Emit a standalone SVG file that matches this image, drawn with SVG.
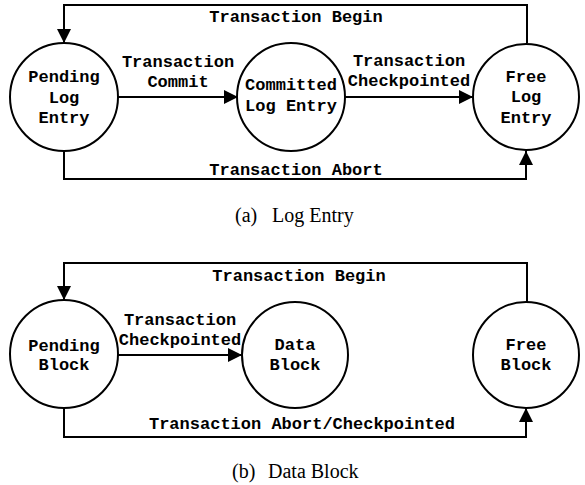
<svg xmlns="http://www.w3.org/2000/svg" width="585" height="485" viewBox="0 0 585 485">
  <style>
    .node { fill: #fff; stroke: #000; stroke-width: 2; }
    .edge { fill: none; stroke: #000; stroke-width: 2; marker-end: url(#arrow); }
    .lbl { font-family: "Liberation Mono", "Courier New", monospace; font-weight: bold; font-size: 17px; fill: #000; text-anchor: middle; }
    .cap { font-family: "Liberation Serif", "Times New Roman", serif; font-size: 20px; fill: #000; }
  </style>
  <defs>
    <marker id="arrow" markerUnits="userSpaceOnUse" markerWidth="14" markerHeight="14" refX="14" refY="7" orient="auto">
      <path d="M0,0 L14,7 L0,14 z" fill="#000"/>
    </marker>
  </defs>
  <rect width="585" height="485" fill="#fff"/>

  <!-- (a) log entry state machine -->
  <g id="log-connectors">
    <path class="edge" d="M527,43 V5 H64 V43"/>
    <path class="edge" d="M118,97 H238"/>
    <path class="edge" d="M345,97 H473"/>
    <path class="edge" d="M64,151 V179 H526 V151"/>
    <text class="lbl" x="296" y="22">Transaction Begin</text>
    <text class="lbl" x="178" y="67">Transaction</text>
    <text class="lbl" x="178" y="87">Commit</text>
    <text class="lbl" x="409" y="66">Transaction</text>
    <text class="lbl" x="409" y="86">Checkpointed</text>
    <text class="lbl" x="296" y="175">Transaction Abort</text>
  </g>
  <g id="pending-log-entry">
    <circle class="node" cx="64" cy="97" r="54"/>
    <text class="lbl" x="64" y="82">Pending</text>
    <text class="lbl" x="64" y="103">Log</text>
    <text class="lbl" x="64" y="123">Entry</text>
  </g>
  <g id="committed-log-entry">
    <circle class="node" cx="291" cy="97" r="54"/>
    <text class="lbl" x="291" y="90">Committed</text>
    <text class="lbl" x="291" y="111">Log Entry</text>
  </g>
  <g id="free-log-entry">
    <circle class="node" cx="526" cy="97" r="53"/>
    <text class="lbl" x="526" y="82">Free</text>
    <text class="lbl" x="526" y="102">Log</text>
    <text class="lbl" x="526" y="123">Entry</text>
  </g>
  <g id="caption-a">
    <text class="cap" x="235" y="222">(a)</text>
    <text class="cap" x="272" y="222">Log Entry</text>
  </g>

  <!-- (b) data block state machine -->
  <g id="block-connectors">
    <path class="edge" d="M527,302 V263 H64 V300"/>
    <path class="edge" d="M118,355 H242"/>
    <path class="edge" d="M64,408 V437 H526 V408"/>
    <text class="lbl" x="299" y="281">Transaction Begin</text>
    <text class="lbl" x="180" y="325">Transaction</text>
    <text class="lbl" x="180" y="345">Checkpointed</text>
    <text class="lbl" x="302" y="429">Transaction Abort/Checkpointed</text>
  </g>
  <g id="pending-block">
    <circle class="node" cx="64" cy="354" r="54"/>
    <text class="lbl" x="64" y="351">Pending</text>
    <text class="lbl" x="64" y="370">Block</text>
  </g>
  <g id="data-block">
    <circle class="node" cx="295" cy="355" r="53"/>
    <text class="lbl" x="295" y="350">Data</text>
    <text class="lbl" x="295" y="370">Block</text>
  </g>
  <g id="free-block">
    <circle class="node" cx="526" cy="355" r="53"/>
    <text class="lbl" x="526" y="350">Free</text>
    <text class="lbl" x="526" y="370">Block</text>
  </g>
  <g id="caption-b">
    <text class="cap" x="232" y="478">(b)</text>
    <text class="cap" x="268" y="478">Data Block</text>
  </g>
</svg>
